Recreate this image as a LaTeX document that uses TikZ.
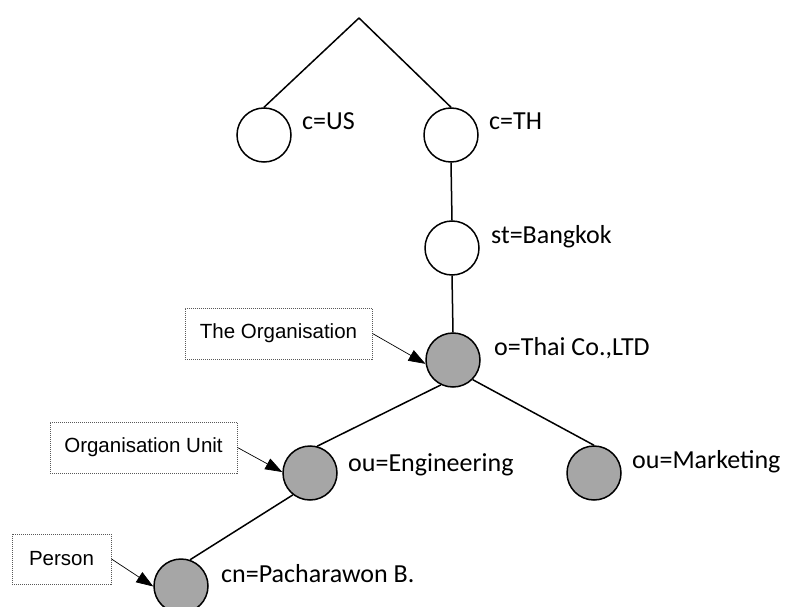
\documentclass[tikz,border=0pt]{standalone}
\usepackage{fontspec}
\setmainfont{Carlito}
\newfontfamily\notefont{Liberation Sans}
\usetikzlibrary{arrows.meta,calc}
\definecolor{dngray}{RGB}{166,166,166}

\begin{document}
\begin{tikzpicture}[x=1pt,y=-1pt,
    dnnode/.style={circle, draw, line width=1.5pt, minimum size=54pt, inner sep=0pt},
    dnfill/.style={dnnode, fill=dngray},
    dnlabel/.style={anchor=base west, inner sep=0pt, font=\fontsize{26}{30}\selectfont},
    branch/.style={line width=1.5pt},
    note/.style={draw=black!65, densely dotted, line width=1pt, fill=white, inner sep=0pt,
      minimum height=51pt, font=\notefont\fontsize{20.5}{24}\selectfont},
    pointer/.style={-{Triangle[length=17pt,width=12pt]}, line width=0.7pt}]
  \useasboundingbox (0,0) rectangle (787,607);

  \coordinate (root) at (359,18);
  \node[dnnode] (us) at (264,135) {};
  \node[dnnode] (th) at (451,135) {};
  \node[dnnode] (bkk) at (452,248) {};
  \node[dnfill] (org) at (453,360) {};
  \node[dnfill] (eng) at (310,473) {};
  \node[dnfill] (mkt) at (594,473) {};
  \node[dnfill] (person) at (181,586) {};

  \node[dnlabel] (usL) at ($(us)+(38,-5)$) {c=US};
  \node[dnlabel] (thL) at ($(th)+(38,-5)$) {c=TH};
  \node[dnlabel] (bkkL) at ($(bkk)+(39,-5)$) {st=Bangkok};
  \node[dnlabel] (orgL) at ($(org)+(41,-5)$) {o=Thai Co.,LTD};
  \node[dnlabel] (engL) at ($(eng)+(38,-2)$) {ou=Engineering};
  \node[dnlabel] (mktL) at ($(mkt)+(38,-5)$) {ou=Marketing};
  \node[dnlabel] (personL) at ($(person)+(40,-4)$) {cn=Pacharawon B.};

  \draw[branch] (root) -- (us.north);
  \draw[branch] (root) -- (th.north);
  \draw[branch] (th.south) -- (bkk.north);
  \draw[branch] (bkk.south) -- (org.north);
  \draw[branch] (org.-116) -- (eng.75);
  \draw[branch] (org.-45) -- (mkt.north);
  \draw[branch] (eng.-128) -- (person.71);

  \node[note, minimum width=187pt] (orgNote) at (278.5,333.5) {The Organisation};
  \node[note, minimum width=187pt] (unitNote) at (143.5,447.5) {Organisation Unit};
  \node[note, minimum width=99pt, minimum height=50pt] (personNote) at (61.5,559) {Person};

  \draw[pointer] (orgNote.east) -- (org.188);
  \draw[pointer] (unitNote.east) -- (eng.178);
  \draw[pointer] (personNote.east) -- (person.181);
\end{tikzpicture}
\end{document}
